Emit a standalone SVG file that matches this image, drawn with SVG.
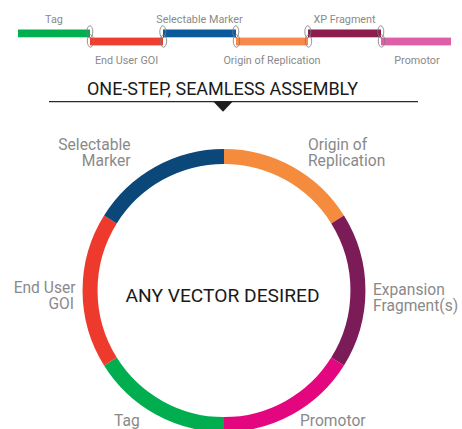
<svg xmlns="http://www.w3.org/2000/svg" width="462" height="429" viewBox="0 0 462 429">
<style>
.lbl{font-family:Roboto,"Liberation Sans",sans-serif;fill:#8a8a8a}
.top{font-size:10.8px;text-anchor:middle}
.ring{font-size:15.6px}
.title{font-family:Roboto,"Liberation Sans",sans-serif;fill:#1a1a1a}
.seg{fill:none;stroke-width:15;stroke-linecap:butt}
.joint{fill:none;stroke:#7a7a7a;stroke-width:0.8}
</style>
<rect width="462" height="429" fill="#ffffff"/>

<g id="linear-tag">
<rect x="18" y="29.5" width="72" height="7.8" fill="#00b050"/>
<text class="lbl top" x="54" y="22.5">Tag</text>
</g>
<g id="linear-goi">
<rect x="90" y="37.6" width="73" height="7.8" fill="#ef3e2f"/>
<text class="lbl top" x="126.5" y="63.5">End User GOI</text>
</g>
<g id="linear-marker">
<rect x="163" y="29.5" width="73" height="7.8" fill="#0a5a9c"/>
<text class="lbl top" x="199.5" y="22.5">Selectable Marker</text>
</g>
<g id="linear-ori">
<rect x="236" y="37.6" width="72" height="7.8" fill="#f7894a"/>
<text class="lbl top" x="272" y="63.5">Origin of Replication</text>
</g>
<g id="linear-xp">
<rect x="308" y="29.5" width="73" height="7.8" fill="#8b1c4c"/>
<text class="lbl top" x="344.5" y="22.5">XP Fragment</text>
</g>
<g id="linear-promotor">
<rect x="381" y="37.6" width="70" height="7.8" fill="#de5fa8"/>
<text class="lbl top" x="417" y="63.5">Promotor</text>
</g>

<g id="joints">
<ellipse class="joint" cx="89.8" cy="31.8" rx="3" ry="6"/>
<ellipse class="joint" cx="90.5" cy="41" rx="3.2" ry="6.2"/>
<ellipse class="joint" cx="162.8" cy="31.8" rx="3" ry="6"/>
<ellipse class="joint" cx="163.5" cy="41" rx="3.2" ry="6.2"/>
<ellipse class="joint" cx="235.8" cy="31.8" rx="3" ry="6"/>
<ellipse class="joint" cx="236.5" cy="41" rx="3.2" ry="6.2"/>
<ellipse class="joint" cx="307.8" cy="31.8" rx="3" ry="6"/>
<ellipse class="joint" cx="308.5" cy="41" rx="3.2" ry="6.2"/>
<ellipse class="joint" cx="380.8" cy="31.8" rx="3" ry="6"/>
<ellipse class="joint" cx="381.5" cy="41" rx="3.2" ry="6.2"/>
</g>

<g id="title">
<text class="title" x="222.5" y="95" font-size="17.5" text-anchor="middle" textLength="271" lengthAdjust="spacingAndGlyphs">ONE-STEP, SEAMLESS ASSEMBLY</text>
</g>

<g id="connectors">
<line x1="49" y1="101.7" x2="418" y2="101.7" stroke="#2a2a2a" stroke-width="1.3"/>
<polygon points="213,101.2 233,101.2 223,111.7" fill="#1e1e1e"/>
</g>

<g id="ring-ori">
<path class="seg" stroke="#f58b3c" d="M224 156.5 A134 134 0 0 1 337.6 219.5"/>
<text class="lbl ring"><tspan x="308" y="150">Origin of</tspan><tspan x="308" y="166">Replication</tspan></text>
</g>
<g id="ring-xp">
<path class="seg" stroke="#7b1b58" d="M337.6 219.5 A134 134 0 0 1 337.6 361.5"/>
<text class="lbl ring"><tspan x="373" y="294.5">Expansion</tspan><tspan x="373" y="310.5">Fragment(s)</tspan></text>
</g>
<g id="ring-promotor">
<path class="seg" stroke="#e3067f" d="M337.6 361.5 A134 134 0 0 1 224 424.5"/>
<text class="lbl ring" x="300" y="426">Promotor</text>
</g>
<g id="ring-tag">
<path class="seg" stroke="#00ae4f" d="M224 424.5 A134 134 0 0 1 110.4 361.5"/>
<text class="lbl ring" x="114" y="425.5">Tag</text>
</g>
<g id="ring-goi">
<path class="seg" stroke="#ee3a2d" d="M110.4 361.5 A134 134 0 0 1 110.4 219.5"/>
<text class="lbl ring" text-anchor="end"><tspan x="75.5" y="293">End User</tspan><tspan x="74" y="309">GOI</tspan></text>
</g>
<g id="ring-marker">
<path class="seg" stroke="#0b4778" d="M110.4 219.5 A134 134 0 0 1 224 156.5"/>
<text class="lbl ring" text-anchor="end"><tspan x="130.5" y="150">Selectable</tspan><tspan x="130.5" y="166">Marker</tspan></text>
</g>

<g id="center">
<text class="title" x="222.5" y="301.5" font-size="19.2" text-anchor="middle">ANY VECTOR DESIRED</text>
</g>
</svg>
